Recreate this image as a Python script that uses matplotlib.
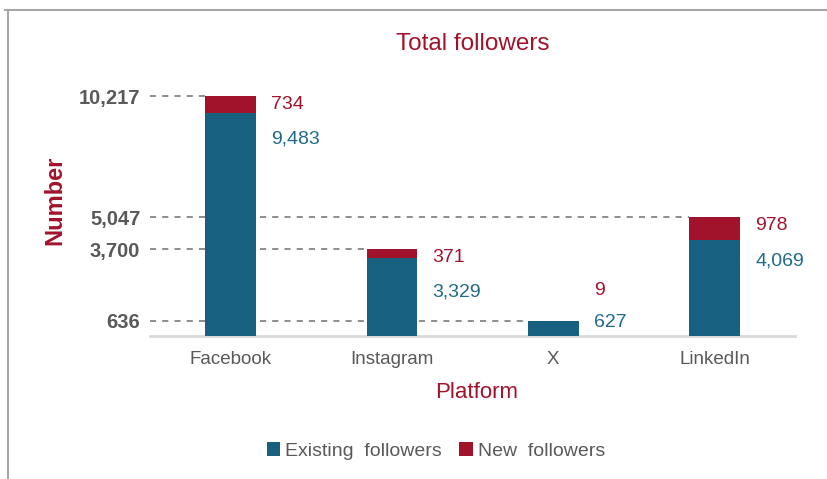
import numpy as np
import matplotlib
matplotlib.use("Agg")
import matplotlib.pyplot as plt
from matplotlib.lines import Line2D

plt.rcParams['font.family'] = ['Liberation Sans', 'DejaVu Sans']

platforms = ["Facebook", "Instagram", "X", "LinkedIn"]
existing = [9483, 3329, 627, 4069]
new = [734, 371, 9, 978]
totals = [e + n for e, n in zip(existing, new)]
ytick_vals = [636, 3700, 5047, 10217]

blue = "#186080"
red = "#a1132b"
gray = "#595959"

fig = plt.figure(figsize=(8.27, 4.79), dpi=100)
ax = fig.add_axes([0.1814, 0.2987, 0.78, 0.539])

x = np.arange(len(platforms))
w = 0.315
ax.bar(x, existing, w, color=blue, label="Existing  followers", zorder=3)
ax.bar(x, new, w, bottom=existing, color=red, label="New  followers", zorder=3)

ax.set_xlim(-0.5, 3.5)
ax.set_ylim(0, 11000)

# dashed guides from the axis to each bar's total
for xi, t in zip(x, totals):
    ax.plot([-0.5, xi - w / 2], [t, t], ls=(0, (4, 4)), color="#6f6f6f", lw=1.1, zorder=1)

for xi, e, n, t in zip(x, existing, new, totals):
    if n < 100:
        ny, ey = 22, -1
    else:
        ny, ey = -6, -31
    ax.annotate(f"{n:,}", (xi + w / 2, t), xytext=(11, ny), textcoords="offset points",
                ha="left", va="center", color=red, fontsize=14)
    ax.annotate(f"{e:,}", (xi + w / 2, t), xytext=(11, ey), textcoords="offset points",
                ha="left", va="center", color="#1f6a8c", fontsize=14)

ax.set_yticks(ytick_vals)
ax.set_yticklabels([f"{v:,}" for v in ytick_vals], fontsize=14.5, fontweight="bold", color=gray)
ax.set_xticks(x)
ax.set_xticklabels(platforms, fontsize=13.5, color=gray)
ax.tick_params(axis="both", length=0)
ax.tick_params(axis="y", pad=7)
ax.tick_params(axis="x", pad=11)

for s in ["top", "right", "left"]:
    ax.spines[s].set_visible(False)
ax.spines["bottom"].set_color("#d9d9d9")
ax.spines["bottom"].set_linewidth(2)

fig.text(0.572, 0.908, "Total followers", ha="center", va="center", color=red, fontsize=17.5)
fig.text(0.066, 0.582, "Number", rotation=90, ha="center", va="center", color=red,
         fontsize=17, fontweight="bold")
fig.text(0.576, 0.181, "Platform", ha="center", va="center", color=red, fontsize=16)

fig.legend(loc="center", bbox_to_anchor=(0.527, 0.058), ncol=2, frameon=False,
           fontsize=14, handlelength=0.7, handleheight=0.7, handletextpad=0.25,
           columnspacing=0.9, labelcolor=gray)

# frame lines of the surrounding box
fig.add_artist(Line2D([0.006, 1.0], [0.979, 0.979], color="#a6a6a6", lw=1.5))
fig.add_artist(Line2D([0.0097, 0.0097], [0.0, 0.979], color="#a6a6a6", lw=1.5))

fig.savefig("out.png", dpi=100)
